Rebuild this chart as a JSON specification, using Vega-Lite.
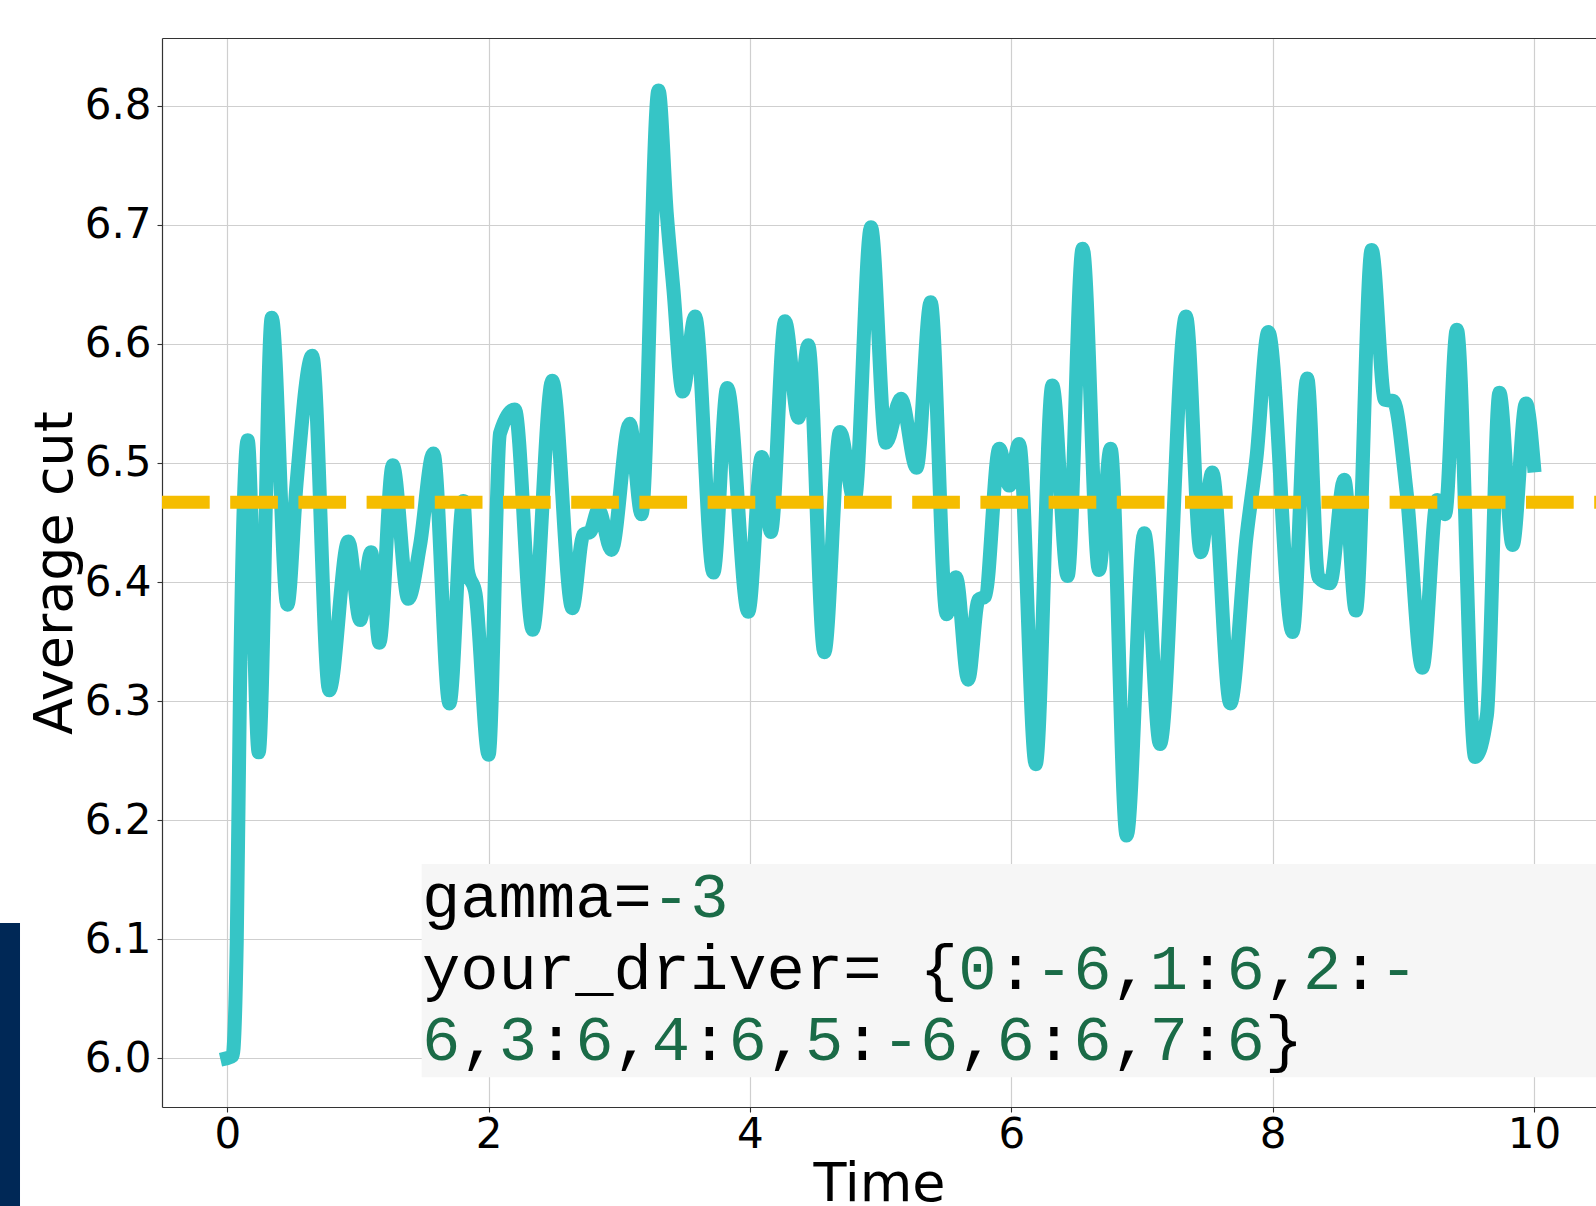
{
  "$schema": "https://vega.github.io/schema/vega-lite/v6.json",
  "width": 1434,
  "height": 1069,
  "autosize": {"type": "none"},
  "padding": {"left": 162, "top": 38, "right": 0, "bottom": 99},
  "background": "white",
  "config": {
    "view": {"stroke": null},
    "font": "DejaVu Sans",
    "axis": {"labelFont": "DejaVu Sans", "titleFont": "DejaVu Sans"}
  },
  "datasets": {
    "series": [
      {"time": 0.0, "cut": 6.0}, {"time": 0.04, "cut": 6.002}, {"time": 0.072, "cut": 6.097},
      {"time": 0.097, "cut": 6.311}, {"time": 0.156, "cut": 6.519}, {"time": 0.24, "cut": 6.257},
      {"time": 0.34, "cut": 6.622}, {"time": 0.46, "cut": 6.381}, {"time": 0.53, "cut": 6.483},
      {"time": 0.65, "cut": 6.59}, {"time": 0.78, "cut": 6.309}, {"time": 0.926, "cut": 6.434},
      {"time": 1.016, "cut": 6.368}, {"time": 1.1, "cut": 6.425}, {"time": 1.163, "cut": 6.349},
      {"time": 1.266, "cut": 6.498}, {"time": 1.385, "cut": 6.386}, {"time": 1.475, "cut": 6.431},
      {"time": 1.577, "cut": 6.508}, {"time": 1.7, "cut": 6.298}, {"time": 1.806, "cut": 6.468},
      {"time": 1.84, "cut": 6.41}, {"time": 1.9, "cut": 6.39}, {"time": 2.0, "cut": 6.255},
      {"time": 2.087, "cut": 6.525}, {"time": 2.2, "cut": 6.545}, {"time": 2.337, "cut": 6.36},
      {"time": 2.487, "cut": 6.569}, {"time": 2.64, "cut": 6.378}, {"time": 2.725, "cut": 6.44},
      {"time": 2.776, "cut": 6.442}, {"time": 2.84, "cut": 6.461}, {"time": 2.94, "cut": 6.427},
      {"time": 3.08, "cut": 6.533}, {"time": 3.17, "cut": 6.457}, {"time": 3.3, "cut": 6.813},
      {"time": 3.363, "cut": 6.71}, {"time": 3.414, "cut": 6.646}, {"time": 3.485, "cut": 6.56},
      {"time": 3.58, "cut": 6.623}, {"time": 3.72, "cut": 6.408}, {"time": 3.826, "cut": 6.563},
      {"time": 3.987, "cut": 6.375}, {"time": 4.09, "cut": 6.505}, {"time": 4.16, "cut": 6.442},
      {"time": 4.268, "cut": 6.619}, {"time": 4.37, "cut": 6.538}, {"time": 4.446, "cut": 6.599},
      {"time": 4.569, "cut": 6.341}, {"time": 4.689, "cut": 6.526}, {"time": 4.8, "cut": 6.468},
      {"time": 4.926, "cut": 6.698}, {"time": 5.04, "cut": 6.517}, {"time": 5.156, "cut": 6.554},
      {"time": 5.275, "cut": 6.496}, {"time": 5.383, "cut": 6.635}, {"time": 5.505, "cut": 6.373},
      {"time": 5.577, "cut": 6.404}, {"time": 5.67, "cut": 6.318}, {"time": 5.748, "cut": 6.385},
      {"time": 5.8, "cut": 6.388}, {"time": 5.908, "cut": 6.512}, {"time": 5.985, "cut": 6.481},
      {"time": 6.06, "cut": 6.516}, {"time": 6.187, "cut": 6.247}, {"time": 6.314, "cut": 6.565},
      {"time": 6.431, "cut": 6.405}, {"time": 6.546, "cut": 6.68}, {"time": 6.671, "cut": 6.41},
      {"time": 6.76, "cut": 6.512}, {"time": 6.883, "cut": 6.187}, {"time": 7.018, "cut": 6.441},
      {"time": 7.138, "cut": 6.264}, {"time": 7.337, "cut": 6.623}, {"time": 7.45, "cut": 6.425},
      {"time": 7.538, "cut": 6.492}, {"time": 7.676, "cut": 6.298}, {"time": 7.8, "cut": 6.438},
      {"time": 7.877, "cut": 6.505}, {"time": 7.967, "cut": 6.61}, {"time": 8.153, "cut": 6.358},
      {"time": 8.265, "cut": 6.571}, {"time": 8.35, "cut": 6.404}, {"time": 8.439, "cut": 6.399},
      {"time": 8.548, "cut": 6.486}, {"time": 8.637, "cut": 6.376}, {"time": 8.758, "cut": 6.679},
      {"time": 8.86, "cut": 6.553}, {"time": 8.924, "cut": 6.552}, {"time": 9.026, "cut": 6.475},
      {"time": 9.146, "cut": 6.328}, {"time": 9.26, "cut": 6.469}, {"time": 9.32, "cut": 6.457},
      {"time": 9.41, "cut": 6.612}, {"time": 9.55, "cut": 6.253}, {"time": 9.64, "cut": 6.288},
      {"time": 9.736, "cut": 6.559}, {"time": 9.837, "cut": 6.431}, {"time": 9.939, "cut": 6.55},
      {"time": 10.0, "cut": 6.498}
    ],
    "code": [
      {"line": 0, "col": 0, "text": "gamma=", "kind": "code"},
      {"line": 0, "col": 6, "text": "-3", "kind": "number"},
      {"line": 1, "col": 0, "text": "your_driver= {", "kind": "code"},
      {"line": 1, "col": 14, "text": "0", "kind": "number"},
      {"line": 1, "col": 15, "text": ":", "kind": "code"},
      {"line": 1, "col": 16, "text": "-6", "kind": "number"},
      {"line": 1, "col": 18, "text": ",", "kind": "code"},
      {"line": 1, "col": 19, "text": "1", "kind": "number"},
      {"line": 1, "col": 20, "text": ":", "kind": "code"},
      {"line": 1, "col": 21, "text": "6", "kind": "number"},
      {"line": 1, "col": 22, "text": ",", "kind": "code"},
      {"line": 1, "col": 23, "text": "2", "kind": "number"},
      {"line": 1, "col": 24, "text": ":", "kind": "code"},
      {"line": 1, "col": 25, "text": "-", "kind": "number"},
      {"line": 2, "col": 0, "text": "6", "kind": "number"},
      {"line": 2, "col": 1, "text": ",", "kind": "code"},
      {"line": 2, "col": 2, "text": "3", "kind": "number"},
      {"line": 2, "col": 3, "text": ":", "kind": "code"},
      {"line": 2, "col": 4, "text": "6", "kind": "number"},
      {"line": 2, "col": 5, "text": ",", "kind": "code"},
      {"line": 2, "col": 6, "text": "4", "kind": "number"},
      {"line": 2, "col": 7, "text": ":", "kind": "code"},
      {"line": 2, "col": 8, "text": "6", "kind": "number"},
      {"line": 2, "col": 9, "text": ",", "kind": "code"},
      {"line": 2, "col": 10, "text": "5", "kind": "number"},
      {"line": 2, "col": 11, "text": ":", "kind": "code"},
      {"line": 2, "col": 12, "text": "-6", "kind": "number"},
      {"line": 2, "col": 14, "text": ",", "kind": "code"},
      {"line": 2, "col": 15, "text": "6", "kind": "number"},
      {"line": 2, "col": 16, "text": ":", "kind": "code"},
      {"line": 2, "col": 17, "text": "6", "kind": "number"},
      {"line": 2, "col": 18, "text": ",", "kind": "code"},
      {"line": 2, "col": 19, "text": "7", "kind": "number"},
      {"line": 2, "col": 20, "text": ":", "kind": "code"},
      {"line": 2, "col": 21, "text": "6", "kind": "number"},
      {"line": 2, "col": 22, "text": "}", "kind": "code"}
    ]
  },
  "layer": [
    {
      "layer": [
        {
          "data": {"values": [{"x0": 1.4875, "x1": 10.6, "y0": 6.1631, "y1": 5.984}]},
          "mark": {"type": "rect", "color": "#f6f6f6", "clip": false},
          "encoding": {
            "x": {
              "field": "x0", "type": "quantitative",
              "scale": {"domain": [-0.5, 10.475], "nice": false, "zero": false},
              "axis": {
                "values": [0, 2, 4, 6, 8, 10], "format": "d",
                "title": "Time", "titleFontSize": 54, "titleFontWeight": "normal", "titleColor": "#000000",
                "titlePadding": 2,
                "labelFontSize": 42, "labelColor": "#000000", "labelPadding": 2, "labelFlush": false, "labelOverlap": false,
                "tickSize": 5, "tickColor": "#333333", "tickWidth": 1.1,
                "domainColor": "#333333", "domainWidth": 1.2,
                "grid": true, "gridColor": "#cfcfcf", "gridWidth": 1.2
              }
            },
            "x2": {"field": "x1"},
            "y": {
              "field": "y0", "type": "quantitative",
              "scale": {"domain": [5.959, 6.857], "nice": false, "zero": false},
              "axis": {
                "values": [6.0, 6.1, 6.2, 6.3, 6.4, 6.5, 6.6, 6.7, 6.8], "format": ".1f",
                "title": "Average cut", "titleFontSize": 54, "titleFontWeight": "normal", "titleColor": "#000000",
                "titlePadding": 13, "titleBaseline": "alphabetic",
                "labelFontSize": 42, "labelColor": "#000000", "labelPadding": 6, "labelOverlap": false,
                "tickSize": 5, "tickColor": "#333333", "tickWidth": 1.1,
                "domainColor": "#333333", "domainWidth": 1.2,
                "grid": true, "gridColor": "#cfcfcf", "gridWidth": 1.2
              }
            },
            "y2": {"field": "y1"}
          }
        },
        {
          "data": {"values": [{"x0": -1.8, "x1": -1.5867, "y0": 6.1136, "y1": 5.85}]},
          "mark": {"type": "rect", "color": "#002856", "clip": false},
          "encoding": {
            "x": {"field": "x0", "type": "quantitative"},
            "x2": {"field": "x1"},
            "y": {"field": "y0", "type": "quantitative"},
            "y2": {"field": "y1"}
          }
        },
        {
          "data": {"name": "series"},
          "mark": {"type": "line", "color": "#36c5c6", "strokeWidth": 14, "interpolate": "monotone", "strokeCap": "square", "strokeJoin": "round"},
          "encoding": {
            "x": {"field": "time", "type": "quantitative"},
            "y": {"field": "cut", "type": "quantitative"}
          }
        },
        {
          "data": {"values": [{"level": 6.467}]},
          "mark": {"type": "rule", "color": "#f5bd00", "strokeWidth": 13, "strokeDash": [47.7, 20.5]},
          "encoding": {
            "x": {"datum": -0.5, "type": "quantitative"},
            "x2": {"datum": 10.5},
            "y": {"field": "level", "type": "quantitative"}
          }
        }
      ]
    },
    {
      "data": {"name": "code"},
      "mark": {"type": "text", "font": "Liberation Mono", "fontSize": 63.8, "align": "left", "baseline": "alphabetic"},
      "encoding": {
        "x": {
          "field": "col", "type": "quantitative",
          "scale": {"domain": [-6.789, 30.65], "nice": false, "zero": false},
          "axis": {"orient": "top", "labels": false, "ticks": false, "grid": false, "title": null, "domainColor": "#333333", "domainWidth": 1.2}
        },
        "y": {
          "field": "line", "type": "quantitative",
          "scale": {"domain": [-12.294, 2.657], "nice": false, "zero": false, "reverse": true},
          "axis": null
        },
        "color": {
          "field": "kind", "type": "nominal",
          "scale": {"domain": ["code", "number"], "range": ["#000000", "#1a6b47"]},
          "legend": null
        },
        "text": {"field": "text"}
      }
    }
  ],
  "resolve": {"scale": {"x": "independent", "y": "independent"}}
}
